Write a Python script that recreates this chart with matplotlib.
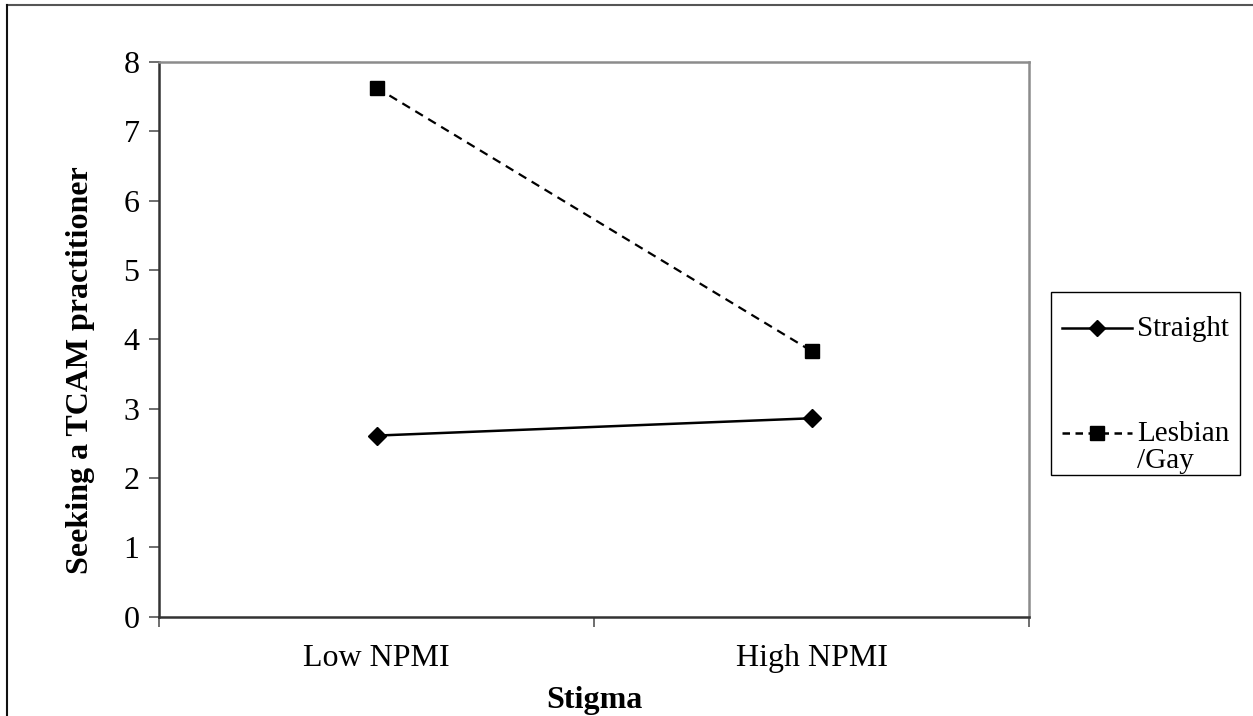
import matplotlib
matplotlib.use("Agg")
import matplotlib.pyplot as plt
from matplotlib.lines import Line2D

categories = ["Low NPMI", "High NPMI"]
series_names = ["Straight", "Lesbian\n/Gay"]
straight = [2.61, 2.86]
lesbian_gay = [7.63, 3.83]
y_ticks = [0, 1, 2, 3, 4, 5, 6, 7, 8]

plt.rcParams['font.family'] = ['Liberation Serif', 'DejaVu Serif']

fig = plt.figure(figsize=(12.53, 7.16), dpi=100)
W, H = 1253, 716
ax = fig.add_axes([159 / W, 1 - 616.5 / H, (1029 - 159) / W, (616.5 - 62) / H])

x = list(range(len(categories)))
ax.plot(x, straight, color='black', lw=1.8, marker='D', markersize=9,
        markerfacecolor='black', markeredgecolor='black')
ax.plot(x, lesbian_gay, color='black', lw=1.6, linestyle=(0, (4, 2.8)), marker='s',
        markersize=10, markerfacecolor='black', markeredgecolor='black')

ax.set_xlim(-0.5, len(categories) - 0.5)
ax.set_ylim(0, 8)
ax.set_yticks(y_ticks)
ax.set_yticklabels([str(v) for v in y_ticks])
ax.set_xticks([i - 0.5 for i in range(len(categories) + 1)])
ax.set_xticklabels([])
ax.set_xticks(x, minor=True)
ax.set_xticklabels(categories, minor=True)
ax.tick_params(axis='x', which='minor', length=0, pad=20, labelsize=23)
ax.tick_params(axis='x', which='major', direction='out', length=7, width=1.2, color='#555555')
ax.tick_params(axis='y', direction='out', length=7, width=1.2, color='#555555', pad=7, labelsize=23)

for s in ['left', 'bottom']:
    ax.spines[s].set_color('#333333')
    ax.spines[s].set_linewidth(1.8)
for s in ['top', 'right']:
    ax.spines[s].set_color('#8c8c8c')
    ax.spines[s].set_linewidth(1.8)

ax.set_ylabel("Seeking a TCAM practitioner", fontsize=23, fontweight='bold')
ax.yaxis.set_label_coords((95 - 159) / 870, (616.5 - 370) / 554.5)
ax.set_xlabel("Stigma", fontsize=23, fontweight='bold', labelpad=9)

# legend (manual, in figure pixel coordinates)
lx0, lx1, ly0, ly1 = 1051, 1240, 292, 475
fig.patches.append(plt.Rectangle((lx0 / W, 1 - ly1 / H), (lx1 - lx0) / W, (ly1 - ly0) / H,
                                 transform=fig.transFigure, fill=False, edgecolor='black',
                                 lw=1.0))
entries = [(straight, '-', 'D', 8, 328), (lesbian_gay, (0, (3, 2.2)), 's', 10, 433)]
for (vals, ls, mk, ms, yy), name in zip(entries, series_names):
    fig.add_artist(Line2D([1062 / W, 1132 / W], [1 - yy / H, 1 - yy / H], transform=fig.transFigure,
                          color='black', lw=1.8, linestyle=ls))
    fig.add_artist(Line2D([1097 / W], [1 - yy / H], transform=fig.transFigure, color='black',
                          marker=mk, markersize=ms, linestyle='none'))
    fig.text(1137 / W, 1 - (yy - 12) / H, name, fontsize=21, ha='left', va='top',
             linespacing=1.05)

# outer border (top and left)
fig.add_artist(Line2D([7 / W, 1], [1 - 5 / H, 1 - 5 / H], transform=fig.transFigure,
                      color='#555555', lw=1.5))
fig.add_artist(Line2D([7 / W, 7 / W], [0, 1 - 5 / H], transform=fig.transFigure,
                      color='#111111', lw=1.5))

fig.savefig("out.png", dpi=100, facecolor='white')
